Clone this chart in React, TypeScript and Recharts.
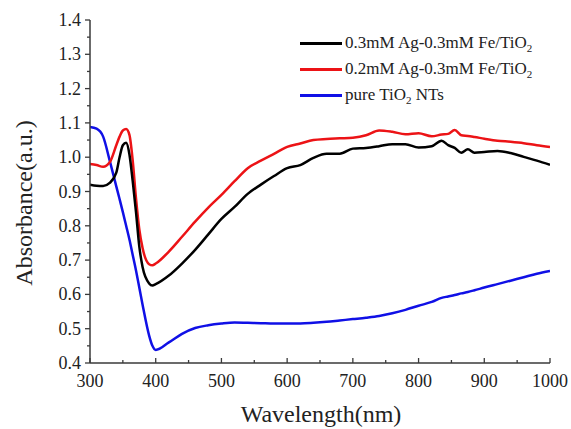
import { Line, LineChart, XAxis, YAxis } from "recharts";

const wavelengths = [
  300, 310, 320, 330, 340, 345, 350, 355, 360, 365, 370, 375, 380, 390, 395, 400, 420, 440, 460, 480, 500, 520,
  540, 560, 580, 600, 620, 640, 660, 680, 700, 720, 740, 760, 780, 800, 820, 835, 845, 855, 865, 875, 885, 900,
  920, 940, 960, 980, 1000,
];

const agFe03 = [
  0.92, 0.917, 0.916, 0.925, 0.955, 1.0, 1.035, 1.042, 1.008, 0.93, 0.84, 0.74, 0.68, 0.632, 0.626, 0.63, 0.655,
  0.69, 0.73, 0.775, 0.82, 0.855, 0.893, 0.92, 0.945, 0.968, 0.977, 0.998, 1.01, 1.01, 1.025, 1.027, 1.032,
  1.038, 1.038, 1.028, 1.032, 1.048, 1.035, 1.027, 1.013, 1.023, 1.013, 1.015, 1.018, 1.012, 1.001, 0.99, 0.978,
];

const agFe02 = [
  0.98, 0.977, 0.972, 0.985, 1.035, 1.06, 1.078, 1.082, 1.065, 0.99, 0.88, 0.79, 0.735, 0.688, 0.685, 0.69, 0.725,
  0.768, 0.812, 0.853, 0.89, 0.93, 0.968, 0.99, 1.01, 1.03, 1.04, 1.05, 1.053, 1.055, 1.057, 1.064, 1.078, 1.074,
  1.067, 1.07, 1.061, 1.066, 1.068, 1.079, 1.064, 1.062, 1.059, 1.054, 1.048, 1.045, 1.041, 1.035, 1.03,
];

const pureTiO2 = [
  1.088, 1.083, 1.06, 0.99, 0.915, 0.878, 0.84, 0.8, 0.76, 0.715, 0.67, 0.62, 0.57, 0.48, 0.45, 0.438, 0.46,
  0.485, 0.502, 0.51, 0.515, 0.518, 0.517, 0.516, 0.515, 0.515, 0.515, 0.517, 0.52, 0.524, 0.528, 0.532, 0.537,
  0.545, 0.555, 0.567, 0.578, 0.59, 0.594, 0.598, 0.603, 0.607, 0.612, 0.62, 0.63, 0.64, 0.65, 0.66, 0.668,
];

const xTicks = [300, 350, 400, 450, 500, 550, 600, 650, 700, 750, 800, 850, 900, 950, 1000];
const yTicks = [0.4, 0.45, 0.5, 0.55, 0.6, 0.65, 0.7, 0.75, 0.8, 0.85, 0.9, 0.95, 1.0, 1.05, 1.1, 1.15, 1.2, 1.25, 1.3, 1.35, 1.4];
const xLabels = ["300", "400", "500", "600", "700", "800", "900", "1000"];
const yLabels = ["0.4", "0.5", "0.6", "0.7", "0.8", "0.9", "1.0", "1.1", "1.2", "1.3", "1.4"];

const data = wavelengths.map((w, i) => ({ w, a: agFe03[i], b: agFe02[i], c: pureTiO2[i] }));

const FONT = '"Liberation Serif", "Times New Roman", serif';
const AXIS = "#3a3a3a";

function XTick({ x, y, payload }: any) {
  const label = xLabels.find((l) => Number(l) === payload.value);
  return (
    <g>
      <line x1={x} x2={x} y1={y} y2={y - (label ? 5 : 3)} stroke={AXIS} strokeWidth={1.3} />
      {label && (
        <text x={x} y={y + 24} textAnchor="middle" fontSize={18} fill="#222" fontFamily={FONT}>
          {label}
        </text>
      )}
    </g>
  );
}

function YTick({ x, y, payload }: any) {
  const label = yLabels.find((l) => Math.abs(Number(l) - payload.value) < 1e-6);
  return (
    <g>
      <line x1={x} x2={x - (label ? 5 : 3)} y1={y} y2={y} stroke={AXIS} strokeWidth={1.3} />
      {label && (
        <text x={x - 9} y={y + 6} textAnchor="end" fontSize={18} fill="#222" fontFamily={FONT}>
          {label}
        </text>
      )}
    </g>
  );
}

const legendRows = [
  { color: "#000000", text: "0.3mM Ag-0.3mM Fe/TiO", sub: "2", after: "" },
  { color: "#ec1316", text: "0.2mM Ag-0.3mM Fe/TiO", sub: "2", after: "" },
  { color: "#1010e6", text: "pure TiO", sub: "2", after: " NTs" },
];

export default function App() {
  return (
    <div style={{ position: "absolute", left: 0, top: 0, width: 571, height: 429, background: "#fff", fontFamily: FONT }}>
      <LineChart width={571} height={429} data={data} margin={{ top: 20, right: 21, bottom: 16, left: 30 }}>
        <XAxis
          dataKey="w"
          type="number"
          domain={[300, 1000]}
          ticks={xTicks}
          interval={0}
          height={50}
          tickSize={0}
          tickMargin={0}
          tick={<XTick />}
          stroke={AXIS}
          strokeWidth={1.5}
          allowDataOverflow
        />
        <YAxis
          type="number"
          domain={[0.4, 1.4]}
          ticks={yTicks}
          interval={0}
          width={60}
          tickSize={0}
          tickMargin={0}
          tick={<YTick />}
          stroke={AXIS}
          strokeWidth={1.5}
          allowDataOverflow
        />
        <Line type="monotone" dataKey="c" stroke="#1010e6" strokeWidth={2.5} dot={false} isAnimationActive={false} />
        <Line type="monotone" dataKey="b" stroke="#ec1316" strokeWidth={2.5} dot={false} isAnimationActive={false} />
        <Line type="monotone" dataKey="a" stroke="#000000" strokeWidth={2.5} dot={false} isAnimationActive={false} />
      </LineChart>
      {legendRows.map((r, i) => (
        <div
          key={r.text + i}
          style={{ position: "absolute", left: 300, top: 33 + i * 26, display: "flex", alignItems: "center", fontSize: 17, color: "#222", whiteSpace: "nowrap" }}
        >
          <span style={{ display: "inline-block", width: 42, height: 2.5, background: r.color, marginRight: 3 }} />
          <span>
            {r.text}
            <sub style={{ fontSize: 11 }}>{r.sub}</sub>
            {r.after}
          </span>
        </div>
      ))}
      <div style={{ position: "absolute", left: 0, top: 401, width: 642, textAlign: "center", fontSize: 24, color: "#222" }}>
        Wavelength(nm)
      </div>
      <div
        style={{
          position: "absolute",
          left: 24,
          top: 203,
          transform: "translate(-50%, -50%) rotate(-90deg)",
          fontSize: 24,
          color: "#222",
          whiteSpace: "nowrap",
        }}
      >
        Absorbance(a.u.)
      </div>
    </div>
  );
}
